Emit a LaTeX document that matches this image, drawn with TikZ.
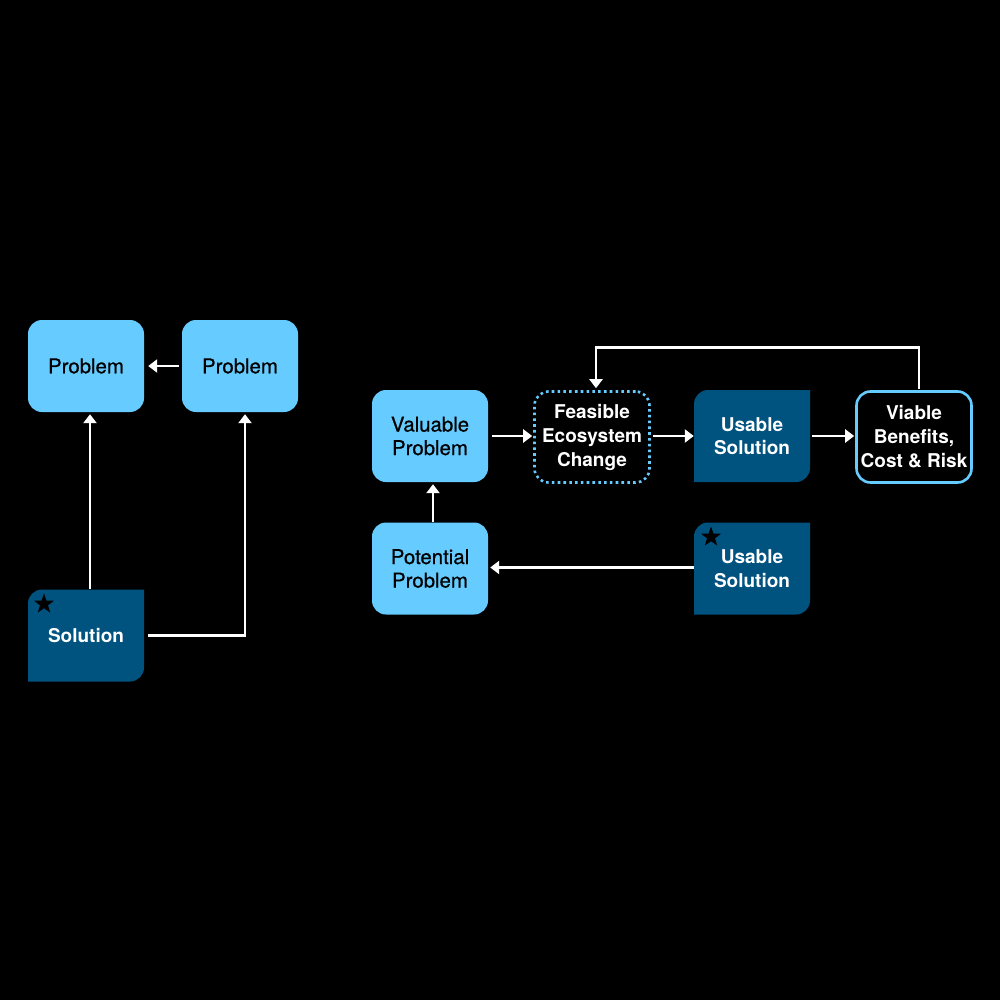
\documentclass[tikz,border=0pt]{standalone}
\usepackage{fontspec}
\setmainfont{TeX Gyre Heros}
\newfontfamily\medfont[FakeBold=0.6]{TeX Gyre Heros}
\usetikzlibrary{arrows.meta,shapes.geometric}
\definecolor{lbc}{HTML}{66CCFF}
\definecolor{dkc}{HTML}{00527F}
\newcommand\dkbox[4]{%
  \fill[dkc] (#2-58,#3+46) -- (#2-58,#3-32) arc[start angle=180,end angle=270,radius=14]
     -- (#2+58,#3-46) -- (#2+58,#3+32) arc[start angle=0,end angle=90,radius=14] -- cycle;
  \node[dktext] (#1) at (#2,#3) {#4};}
\begin{document}
\begin{tikzpicture}[x=1pt,y=-1pt,
  lbbox/.style={rectangle,rounded corners=14pt,fill=lbc,minimum width=116pt,minimum height=92pt,inner sep=0pt,align=center,text=black,font=\medfont\fontsize{20.4}{23.5}\selectfont},
  dktext/.style={rectangle,minimum width=116pt,minimum height=92pt,inner sep=0pt,align=center,text=white,font=\bfseries\fontsize{19}{23.5}\selectfont},
  outbox/.style={rectangle,rounded corners=14pt,minimum width=115pt,minimum height=91pt,inner sep=0pt,align=center,text=white,line width=2.6pt,font=\bfseries\fontsize{19}{24}\selectfont},
  starmark/.style={star,star points=5,star point ratio=2.5,fill=black,minimum size=21pt,inner sep=0pt},
  arr/.style={draw=white,line width=2.9pt,-{Triangle[length=9pt,width=13pt]}},
]
\fill[black] (0,0) rectangle (1000,1000);
\useasboundingbox (0,0) rectangle (1000,1000);

% left diagram
\node[lbbox] (p1) at (86,366) {Problem};
\node[lbbox] (p2) at (240,366) {Problem};
\dkbox{sol}{86}{635.5}{Solution}
\node[starmark] (st1) at (44,604) {};

\draw[arr,shorten <=3pt,shorten >=4pt] (p2.west) -- (p1.east);
\draw[arr,shorten >=2pt] ([xshift=4pt]sol.north) -- ([xshift=4pt]p1.south);
\draw[arr,shorten <=4pt,shorten >=2pt] (sol.east) -| ([xshift=5pt]p2.south);

% right diagram
\node[lbbox] (val) at (430,436) {Valuable\\Problem};
\node[lbbox] (pot) at (430,568.5) {Potential\\Problem};
\node[outbox,draw=lbc,dash pattern=on 2.6pt off 3.2pt,fill=black] (feas) at (592,437) {Feasible\\Ecosystem\\Change};
\dkbox{us1}{752}{436}{Usable\\Solution}
\node[outbox,draw=lbc,fill=black] (via) at (914,437) {Viable\\Benefits,\\Cost \& Risk};
\dkbox{us2}{752}{568.5}{Usable\\Solution}
\node[starmark] (st2) at (711,537) {};

\draw[arr,shorten <=4pt,shorten >=1pt] (val.east) -- (val.east -| feas.west);
\draw[arr,shorten <=2pt,shorten >=0pt] (us1.west -| feas.east) -- (us1.west);
\draw[arr,shorten <=2pt,shorten >=1pt] (us1.east) -- (us1.east -| via.west);
\draw[arr,shorten <=1pt,shorten >=2pt] ([xshift=5pt]via.north) -- ++(0,-43) -| ([xshift=4pt]feas.north);
\draw[arr,shorten >=2pt] ([xshift=3pt]pot.north) -- ([xshift=3pt]val.south);
\draw[arr,shorten >=2pt] ([yshift=1pt]us2.west) -- ([yshift=1pt]pot.east);
\end{tikzpicture}
\end{document}
